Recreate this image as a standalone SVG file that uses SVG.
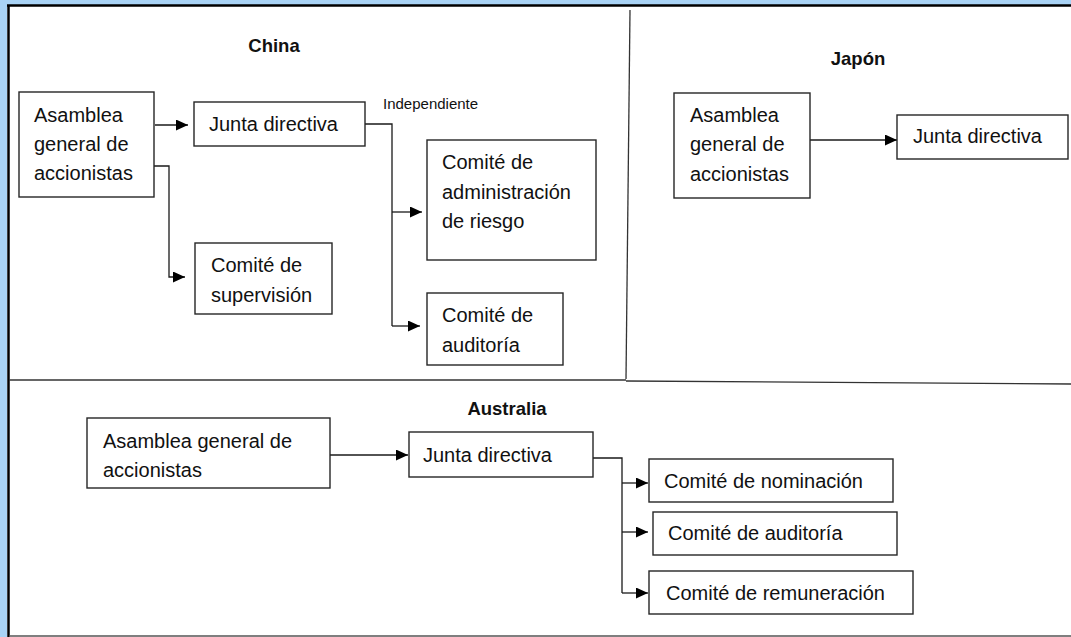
<svg xmlns="http://www.w3.org/2000/svg" width="1071" height="637" viewBox="0 0 1071 637">
<defs>
<marker id="ah" markerUnits="userSpaceOnUse" markerWidth="13" markerHeight="11" refX="12" refY="5.5" orient="auto">
<path d="M0,0 L12,5.5 L0,11 z" fill="#000"/>
</marker>
<style>
.box{fill:#fff;stroke:#262626;stroke-width:1.4}
.t{font-family:"Liberation Sans",Arial,sans-serif;font-size:20px;fill:#111}
.h{font-family:"Liberation Sans",Arial,sans-serif;font-size:18.5px;font-weight:bold;fill:#111}
.s{font-family:"Liberation Sans",Arial,sans-serif;font-size:15px;fill:#111}
.c{fill:none;stroke:#1a1a1a;stroke-width:1.3}
.ca{fill:none;stroke:#1a1a1a;stroke-width:1.3;marker-end:url(#ah)}
.fr{fill:none;stroke:#333;stroke-width:1.3}
</style>
</defs>
<rect width="1071" height="637" fill="#fff"/>
<g id="frame">
<rect x="0" y="0" width="1071" height="5" fill="#a9d3f5"/>
<rect x="0" y="0" width="7" height="637" fill="#a9d3f5"/>
<line x1="7" y1="5.5" x2="1071" y2="5.5" stroke="#000" stroke-width="2.5"/>
<line x1="8.5" y1="5" x2="8.5" y2="637" stroke="#000" stroke-width="2.5"/>
<line x1="9" y1="636" x2="1071" y2="636" stroke="#555" stroke-width="1.6"/>
<line class="fr" x1="630" y1="10" x2="626" y2="379"/>
<line class="fr" x1="9" y1="380" x2="626" y2="380"/>
<line class="fr" x1="626" y1="381" x2="1071" y2="384"/>
</g>
<g id="titles">
<text class="h" x="274" y="52" text-anchor="middle">China</text>
<text class="h" x="858" y="65" text-anchor="middle">Japón</text>
<text class="h" x="507" y="415" text-anchor="middle">Australia</text>
<text class="s" x="383" y="109">Independiente</text>
</g>
<g id="connectors">
<line class="ca" x1="155" y1="125" x2="188" y2="125"/>
<polyline class="ca" points="154,166 169,166 169,277 185,277"/>
<polyline class="c" points="365,124 392,124 392,326"/>
<line class="ca" x1="392" y1="212" x2="422" y2="212"/>
<line class="ca" x1="392" y1="326" x2="420" y2="326"/>
<line class="ca" x1="810" y1="140" x2="897" y2="140"/>
<line class="ca" x1="330" y1="455" x2="408" y2="455"/>
<polyline class="c" points="593,458 622,458 622,593"/>
<line class="ca" x1="622" y1="483" x2="648" y2="483"/>
<line class="ca" x1="622" y1="532" x2="648" y2="532"/>
<line class="ca" x1="622" y1="593" x2="648" y2="593"/>
</g>
<g id="cn-asamblea">
<rect class="box" x="19" y="92" width="135" height="105"/>
<text class="t" x="34" y="122">Asamblea</text>
<text class="t" x="34" y="151">general de</text>
<text class="t" x="34" y="180">accionistas</text>
</g>
<g id="cn-junta">
<rect class="box" x="194" y="102" width="171" height="44"/>
<text class="t" x="209" y="131">Junta directiva</text>
</g>
<g id="cn-supervision">
<rect class="box" x="195" y="243" width="137" height="71"/>
<text class="t" x="211" y="272">Comité de</text>
<text class="t" x="211" y="302">supervisión</text>
</g>
<g id="cn-riesgo">
<rect class="box" x="427" y="140" width="169" height="120"/>
<text class="t" x="442" y="169">Comité de</text>
<text class="t" x="442" y="199">administración</text>
<text class="t" x="442" y="228">de riesgo</text>
</g>
<g id="cn-auditoria">
<rect class="box" x="427" y="293" width="136" height="72"/>
<text class="t" x="442" y="322">Comité de</text>
<text class="t" x="442" y="352">auditoría</text>
</g>
<g id="jp-asamblea">
<rect class="box" x="674" y="93" width="136" height="105"/>
<text class="t" x="690" y="122">Asamblea</text>
<text class="t" x="690" y="151">general de</text>
<text class="t" x="690" y="181">accionistas</text>
</g>
<g id="jp-junta">
<rect class="box" x="897" y="115" width="171" height="44"/>
<text class="t" x="913" y="143">Junta directiva</text>
</g>
<g id="au-asamblea">
<rect class="box" x="87" y="418" width="243" height="70"/>
<text class="t" x="103" y="448">Asamblea general de</text>
<text class="t" x="103" y="477">accionistas</text>
</g>
<g id="au-junta">
<rect class="box" x="409" y="432" width="184" height="45"/>
<text class="t" x="423" y="462">Junta directiva</text>
</g>
<g id="au-nominacion">
<rect class="box" x="649" y="459" width="244" height="43"/>
<text class="t" x="664" y="488">Comité de nominación</text>
</g>
<g id="au-auditoria">
<rect class="box" x="653" y="512" width="244" height="43"/>
<text class="t" x="668" y="540">Comité de auditoría</text>
</g>
<g id="au-remuneracion">
<rect class="box" x="649" y="571" width="264" height="43"/>
<text class="t" x="666" y="600">Comité de remuneración</text>
</g>
</svg>
